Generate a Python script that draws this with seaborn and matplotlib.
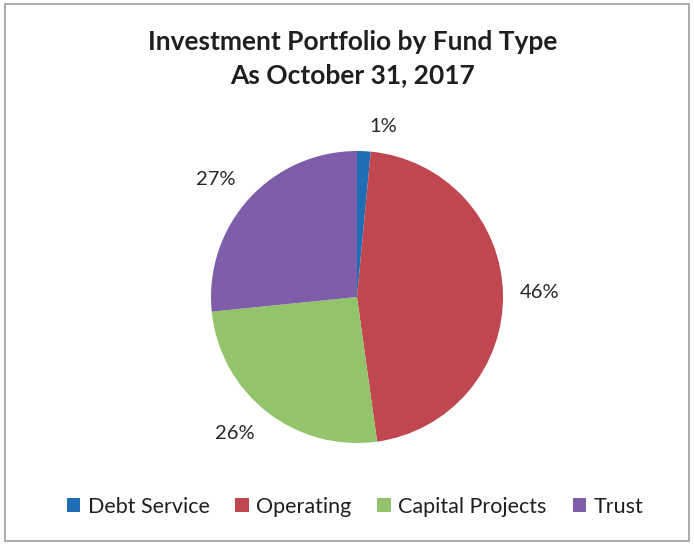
import matplotlib
matplotlib.use("Agg")
import matplotlib.pyplot as plt
from matplotlib.patches import Rectangle
import seaborn as sns

# Fund shares of the investment portfolio (percent)
funds = ["Debt Service", "Operating", "Capital Projects", "Trust"]
shares = [1.5, 46.3, 25.6, 26.6]
share_labels = ["1%", "46%", "26%", "27%"]
fund_colors = ["#1F6DB4", "#C0464F", "#93C36B", "#7E5EA9"]

title_lines = ["Investment Portfolio by Fund Type", "As October 31, 2017"]

sns.set_theme(style="white")
plt.rcParams["font.family"] = ["Lato", "DejaVu Sans"]

W, H = 694, 545
fig = plt.figure(figsize=(W / 100, H / 100), dpi=100)
fig.patch.set_facecolor("white")

# Outer chart frame
fig.add_artist(Rectangle((5 / W, 4 / H), 684 / W, 537 / H, transform=fig.transFigure,
                         fill=False, edgecolor="#A6A6A6", linewidth=1.3))

# Pie axes: centre (357, 297) px, radius 146 px
cx, cy, r = 357, 297, 146
ax = fig.add_axes([(cx - r) / W, (H - cy - r) / H, 2 * r / W, 2 * r / H])
palette = sns.color_palette(fund_colors)
wedges, texts = ax.pie(shares, labels=share_labels, colors=palette, startangle=90,
                       counterclock=False, labeldistance=1.25, radius=1,
                       wedgeprops=dict(linewidth=0),
                       textprops=dict(fontsize=14.5, color="#262626"))
ax.set_xlim(-1, 1)
ax.set_ylim(-1, 1)
ax.set_aspect("equal")
ax.axis("off")

# Small nudges of the percentage labels (pixels: right, up)
label_nudges = [(18, -12), (0, 0), (-9, 7), (-6, -5)]
for t, (dx, dy) in zip(texts, label_nudges):
    x, y = t.get_position()
    t.set_position((x + dx / r, y + dy / r))
    t.set_ha("center")
    t.set_va("center")

# Title
for line, base in zip(title_lines, [50, 83]):
    fig.text(353 / W, 1 - base / H, line, ha="center", va="baseline",
             fontsize=19, fontweight="bold", color="#1F1F1F")

# Legend along the bottom
fig.legend(wedges, funds, loc="center", bbox_to_anchor=(355 / W, 1 - 507 / H),
           ncol=4, frameon=False, fontsize=15.5, handlelength=0.62, handleheight=0.62,
           handletextpad=0.35, columnspacing=1.2, labelcolor="#1F1F1F")

fig.savefig("out.png", dpi=100, facecolor="white")
